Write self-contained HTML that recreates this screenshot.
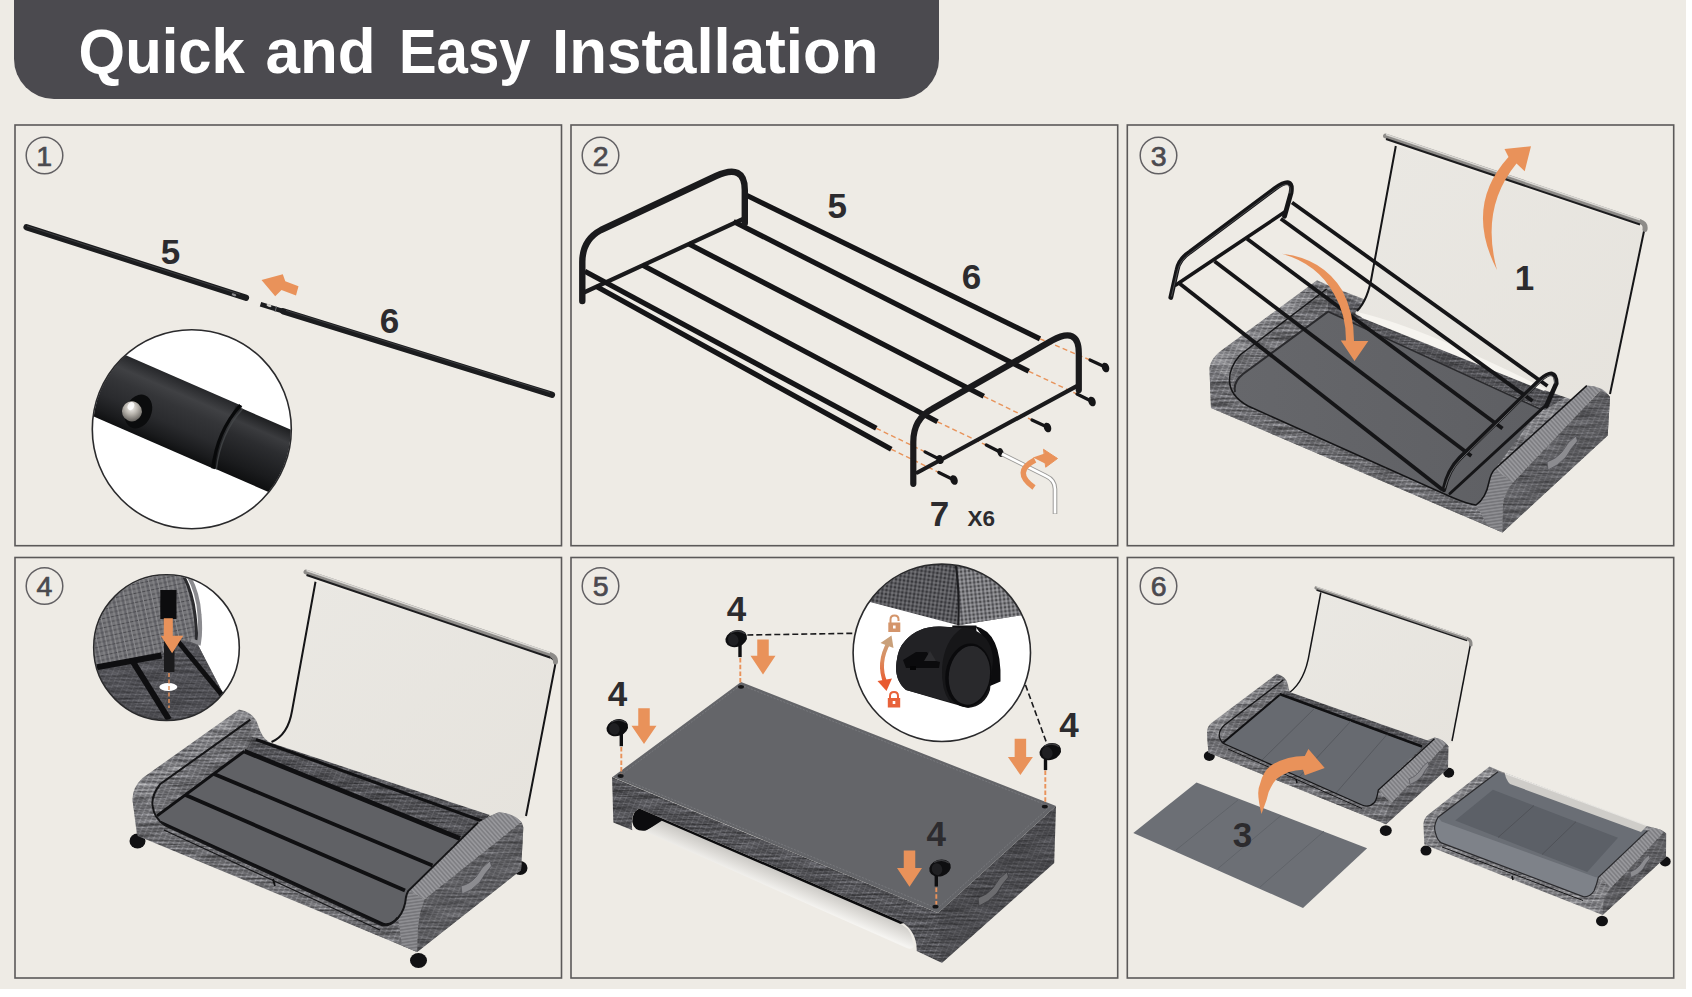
<!DOCTYPE html>
<html>
<head>
<meta charset="utf-8">
<title>Quick and Easy Installation</title>
<style>
html,body{margin:0;padding:0;background:#ffffff;}
body{width:1692px;height:997px;overflow:hidden;font-family:"Liberation Sans",sans-serif;}
svg{display:block;position:absolute;left:0;top:0;}
text{font-family:"Liberation Sans",sans-serif;}
</style>
</head>
<body>
<svg width="1692" height="997" viewBox="0 0 1692 997">
<defs>
  <filter id="fab" x="-2%" y="-2%" width="104%" height="104%" color-interpolation-filters="sRGB">
    <feTurbulence type="fractalNoise" baseFrequency="0.03 0.5" numOctaves="2" seed="5" result="t"/>
    <feColorMatrix in="t" type="matrix" values="0.6 0 0 0 0.2  0.6 0 0 0 0.2  0.6 0 0 0 0.2  0 0 0 0 1" result="g"/>
    <feBlend in="g" in2="SourceGraphic" mode="overlay" result="b"/>
    <feComposite in="b" in2="SourceGraphic" operator="in"/>
  </filter>
  <pattern id="weave" width="5" height="5" patternUnits="userSpaceOnUse" patternTransform="rotate(24)">
    <rect width="5" height="5" fill="#8b8b8f"/>
    <path d="M0 1H5" stroke="#626266" stroke-width="1.1"/>
    <path d="M0 3.5H5" stroke="#77777b" stroke-width="0.8"/>
    <path d="M1.5 0V5" stroke="#9d9da1" stroke-width="0.7"/>
    <path d="M4 0V5" stroke="#6a6a6e" stroke-width="0.6"/>
  </pattern>
  <pattern id="weaveM" width="5" height="5" patternUnits="userSpaceOnUse" patternTransform="rotate(24)">
    <rect width="5" height="5" fill="#77777b"/>
    <path d="M0 1H5" stroke="#55555a" stroke-width="1.2"/>
    <path d="M0 3.5H5" stroke="#66666a" stroke-width="0.8"/>
    <path d="M1.5 0V5" stroke="#88888c" stroke-width="0.7"/>
    <path d="M4 0V5" stroke="#5c5c60" stroke-width="0.6"/>
  </pattern>
  <pattern id="bandR" width="3.2" height="6" patternUnits="userSpaceOnUse" patternTransform="rotate(-42)">
    <rect width="3.2" height="6" fill="#98989c"/>
    <path d="M0.8 0V6" stroke="#707074" stroke-width="1"/>
  </pattern>
  <pattern id="bandR2" width="6" height="3.2" patternUnits="userSpaceOnUse" patternTransform="rotate(-8)">
    <rect width="6" height="3.2" fill="#8e8e92"/>
    <path d="M0 0.8H6" stroke="#68686c" stroke-width="1"/>
  </pattern>
  <pattern id="weaveD" width="5" height="5" patternUnits="userSpaceOnUse" patternTransform="rotate(24)">
    <rect width="5" height="5" fill="#58585c"/>
    <path d="M0 1H5" stroke="#3e3e42" stroke-width="1.2"/>
    <path d="M0 3.5H5" stroke="#4b4b50" stroke-width="0.8"/>
    <path d="M1.5 0V5" stroke="#69696d" stroke-width="0.7"/>
  </pattern>
</defs>
<!-- page background -->
<rect x="0" y="0" width="1686" height="989" fill="#eeebe5"/>

<!-- header banner -->
<path d="M14 0H939V59A40 40 0 0 1 899 99H54A40 40 0 0 1 14 59Z" fill="#4b4a4f"/>
<g font-size="62.5" font-weight="bold" fill="#ffffff" lengthAdjust="spacingAndGlyphs">
  <text x="78.6" y="72.5" textLength="166.3" lengthAdjust="spacingAndGlyphs">Quick</text>
  <text x="265.5" y="72.5" textLength="110.2" lengthAdjust="spacingAndGlyphs">and</text>
  <text x="399" y="72.5" textLength="131.6" lengthAdjust="spacingAndGlyphs">Easy</text>
  <text x="552.1" y="72.5" textLength="326.4" lengthAdjust="spacingAndGlyphs">Installation</text>
</g>

<!-- panel frames -->
<g fill="none" stroke="#5b5959" stroke-width="1.6">
  <rect x="15" y="125" width="546.5" height="420.7"/>
  <rect x="571" y="125" width="546.7" height="420.7"/>
  <rect x="1127.3" y="125" width="546.4" height="420.7"/>
  <rect x="15" y="557.5" width="546.5" height="420.5"/>
  <rect x="571" y="557.5" width="546.7" height="420.5"/>
  <rect x="1127.3" y="557.5" width="546.4" height="420.5"/>
</g>

<!-- step numbers -->
<g fill="none" stroke="#626063" stroke-width="1.5">
  <circle cx="44.5" cy="155.5" r="18.3"/>
  <circle cx="600.5" cy="155.5" r="18.3"/>
  <circle cx="1158.5" cy="155.5" r="18.3"/>
  <circle cx="44.5" cy="586" r="18.3"/>
  <circle cx="600.5" cy="586" r="18.3"/>
  <circle cx="1158.5" cy="586" r="18.3"/>
</g>
<g font-size="28.5" font-weight="normal" fill="#4b4a4f" stroke="#4b4a4f" stroke-width="0.7" text-anchor="middle">
  <text x="44.3" y="166">1</text>
  <text x="600.6" y="166">2</text>
  <text x="1158.6" y="166">3</text>
  <text x="44.5" y="596.3">4</text>
  <text x="600.6" y="596.3">5</text>
  <text x="1158.6" y="596.3">6</text>
</g>

<!-- PANEL1 -->
<defs>
  <linearGradient id="tubeG" x1="0" y1="0" x2="0" y2="1">
    <stop offset="0" stop-color="#26272a"/>
    <stop offset="0.2" stop-color="#404144"/>
    <stop offset="0.38" stop-color="#343538"/>
    <stop offset="0.65" stop-color="#2a2b2e"/>
    <stop offset="0.88" stop-color="#1a1b1d"/>
    <stop offset="1" stop-color="#0f1011"/>
  </linearGradient>
  <linearGradient id="tubeG2" x1="0" y1="0" x2="0" y2="1">
    <stop offset="0" stop-color="#1e1f21"/>
    <stop offset="0.2" stop-color="#3b3c3f"/>
    <stop offset="0.4" stop-color="#2c2d30"/>
    <stop offset="0.8" stop-color="#1a1b1d"/>
    <stop offset="1" stop-color="#0e0f10"/>
  </linearGradient>
  <radialGradient id="ballG" cx="0.4" cy="0.35" r="0.7">
    <stop offset="0" stop-color="#f4f2ee"/>
    <stop offset="0.45" stop-color="#b9b5ae"/>
    <stop offset="1" stop-color="#5e5b57"/>
  </radialGradient>
  <clipPath id="c1"><circle cx="191.8" cy="429.2" r="99"/></clipPath>
</defs>
<g id="panel1">
  <!-- rod 5 -->
  <line x1="26.5" y1="227.2" x2="246" y2="297.7" stroke="#1b1c1e" stroke-width="6.2" stroke-linecap="round"/>
  <line x1="27" y1="226" x2="240" y2="294.3" stroke="#4a4b4e" stroke-width="1" opacity="0.7"/>
  <ellipse cx="234" cy="294.8" rx="2.4" ry="1.2" fill="#8a8a8c" transform="rotate(18 234 294.8)"/>
  <!-- rod 6 -->
  <line x1="260.5" y1="304.3" x2="284" y2="311.5" stroke="#1b1c1e" stroke-width="4.6"/>
  <line x1="283" y1="311.2" x2="552" y2="394.8" stroke="#1b1c1e" stroke-width="6.2" stroke-linecap="round"/>
  <line x1="286" y1="310.4" x2="550" y2="392.4" stroke="#4a4b4e" stroke-width="1" opacity="0.7"/>
  <ellipse cx="269" cy="305.6" rx="2.6" ry="1.3" fill="#cfcdc8" transform="rotate(17 269 305.6)"/>
  <line x1="276.5" y1="306.5" x2="275" y2="312" stroke="#6c6c6e" stroke-width="1"/>
  <!-- arrow -->
  <path d="M261.5 280L282.8 274.2L285.3 281.3L298.5 286.2L296 295.5L281.5 290L275.2 296.3Z" fill="#e9925a"/>
  <!-- labels -->
  <g font-size="35" font-weight="bold" fill="#2c2b2e" text-anchor="middle">
    <text x="170.5" y="264">5</text>
    <text x="389.5" y="332.5">6</text>
  </g>
  <!-- inset -->
  <circle cx="191.8" cy="429.2" r="99.5" fill="#ffffff"/>
  <g clip-path="url(#c1)">
    <g transform="translate(191.8 421.6) rotate(23.5)">
      <rect x="-130" y="-34.5" width="170" height="69" fill="url(#tubeG)"/>
      <rect x="34" y="-32" width="110" height="66" fill="url(#tubeG2)"/>
      <path d="M38 -34.5Q27 0 38 34.5" fill="none" stroke="#08090a" stroke-width="3.2"/>
      <path d="M41.5 -32Q31 0 41.5 34" fill="none" stroke="#45474a" stroke-width="1.5" opacity="0.8"/>
      <ellipse cx="-53" cy="12" rx="13" ry="17.5" fill="#0b0c0d"/>
      <circle cx="-59" cy="14.5" r="10" fill="url(#ballG)"/>
      <ellipse cx="-62" cy="10" rx="3.2" ry="4.2" fill="#ffffff" opacity="0.85"/>
    </g>
  </g>
  <circle cx="191.8" cy="429.2" r="99.5" fill="none" stroke="#2a2a2c" stroke-width="1.6"/>
</g>
<!-- PANEL2 -->
<g id="panel2" fill="none" stroke-linecap="round" stroke-linejoin="round">
  <!-- far U frame lower crossbar -->
  <line x1="743" y1="219" x2="585" y2="292" stroke="#1a1a1c" stroke-width="4.2"/>
  <!-- long rods -->
  <g stroke="#151517" stroke-width="5.2" stroke-linecap="butt">
    <line x1="746" y1="195" x2="1040" y2="338.8"/>
    <line x1="733.5" y1="221.5" x2="1028.8" y2="371.3"/>
    <line x1="688.5" y1="243.8" x2="983.8" y2="396.3"/>
    <line x1="642.3" y1="265" x2="937.5" y2="421.8"/>
    <line x1="584.8" y1="271.3" x2="876.3" y2="428.3"/>
    <line x1="596" y1="286.3" x2="891.3" y2="449.3"/>
  </g>
  <!-- far U frame -->
  <path d="M582.3 301V262Q582.3 240 601 230L716 176Q744.8 163 744.8 190V223" stroke="#1a1a1c" stroke-width="6.4"/>
  <!-- dashed guides -->
  <g stroke="#e8935a" stroke-width="1.4" stroke-dasharray="5 3.2" stroke-linecap="butt">
    <line x1="1040" y1="338.8" x2="1090" y2="360"/>
    <line x1="1028.8" y1="371.3" x2="1077" y2="394"/>
    <line x1="983.8" y1="396.3" x2="1032" y2="420"/>
    <line x1="937.5" y1="421.8" x2="986" y2="445"/>
    <line x1="876.3" y1="428.3" x2="925" y2="451.8"/>
    <line x1="891.3" y1="449.3" x2="939" y2="472.5"/>
  </g>
  <!-- near U frame -->
  <line x1="1076.3" y1="386.3" x2="917.5" y2="472.5" stroke="#1a1a1c" stroke-width="4.2"/>
  <path d="M913.3 483.8V442Q913.3 419 932.5 408.8L1052 340.5Q1078.8 326 1078.8 353V390" stroke="#1a1a1c" stroke-width="6.2"/>
  <!-- screws -->
  <g stroke="#151517" stroke-width="3.2">
    <line x1="1090" y1="360" x2="1104" y2="366.5"/>
    <line x1="1077" y1="394" x2="1090" y2="400.5"/>
    <line x1="1032" y1="420" x2="1046" y2="426.5"/>
    <line x1="986.3" y1="445" x2="1000" y2="452"/>
    <line x1="925" y1="451.8" x2="939" y2="459"/>
    <line x1="938.8" y1="472.5" x2="952" y2="479"/>
  </g>
  <g fill="#151517" stroke="none">
    <ellipse cx="1105.5" cy="367.5" rx="3.6" ry="5" transform="rotate(-20 1105.5 367.5)"/>
    <ellipse cx="1092" cy="401.5" rx="3.6" ry="5" transform="rotate(-20 1092 401.5)"/>
    <ellipse cx="1047.5" cy="427.5" rx="3.6" ry="5" transform="rotate(-20 1047.5 427.5)"/>
    <ellipse cx="1000.5" cy="452.5" rx="3" ry="4.6" transform="rotate(-20 1000.5 452.5)"/>
    <ellipse cx="940" cy="459.5" rx="3.4" ry="4.6" transform="rotate(-20 940 459.5)"/>
    <ellipse cx="954" cy="480" rx="3.6" ry="5" transform="rotate(-20 954 480)"/>
  </g>
  <!-- allen key -->
  <path d="M1002 454L1046 476Q1055 480 1055 489V514" stroke="#9b9a98" stroke-width="4.6" stroke-linecap="butt"/>
  <path d="M1002 454L1046 476Q1055 480 1055 489V513.5" stroke="#ffffff" stroke-width="2.6" stroke-linecap="butt"/>
  <!-- orange curved arrow -->
  <path d="M1034 487.5Q1012 472 1035 460" stroke="#e9925a" stroke-width="5.5" stroke-linecap="butt"/>
  <path d="M1043.8 449.5L1057.5 458.5L1046 467Z" fill="#e9925a" stroke="#e9925a" stroke-width="1"/>
  <path d="M1033 457.5L1046 453V464Z" fill="#e9925a" stroke="none"/>
</g>
<g font-weight="bold" fill="#2c2b2e" text-anchor="middle">
  <text x="837.3" y="217.5" font-size="35">5</text>
  <text x="971.6" y="288.8" font-size="35">6</text>
  <text x="939.4" y="526.3" font-size="35">7</text>
  <text x="981.3" y="526.3" font-size="22.5">X6</text>
</g>
<!-- PANEL3 -->
<defs>
  <linearGradient id="lidG" x1="0" y1="0" x2="1" y2="1">
    <stop offset="0" stop-color="#eae8e3"/>
    <stop offset="1" stop-color="#e6e3dd"/>
  </linearGradient>
  <linearGradient id="floorG" x1="0" y1="0" x2="1" y2="0">
    <stop offset="0" stop-color="#66676b"/>
    <stop offset="1" stop-color="#5e5f63"/>
  </linearGradient>
</defs>
<g id="panel3">
  <!-- bed outer body (fabric) -->
  <path d="M1317 280.3L1330 286L1587 385.6Q1603 388 1610 397L1607.7 435.4L1502.5 532.5L1211 408L1209.4 368Q1211 357 1224 348.5Z" fill="url(#weave)" filter="url(#fab)"/>
  <!-- inner faces (dark) -->
  <path d="M1326.6 289L1575 392L1545 410L1328 311.6Z" fill="url(#weaveD)" filter="url(#fab)"/>
  <path d="M1326.6 289L1240 355Q1229 368 1229.5 380.6Q1230 396 1248 405L1262 396L1328 311.6Z" fill="url(#weaveM)" filter="url(#fab)"/>
  <!-- floor -->
  <path d="M1328 311.6L1540 409L1494.5 469.5Q1488 492 1476 505Q1464 504 1440 492L1248 406Q1232 396 1234 384Q1236 378 1243 374Z" fill="url(#floorG)"/>
  <path d="M1328 311.6L1243 374Q1233 382 1235 392" stroke="#2a2a2d" stroke-width="2" fill="none"/>
  <path d="M1328 311.6L1540 409" stroke="#2a2a2d" stroke-width="1.6" fill="none"/>
  <!-- lid -->
  <path d="M1395.8 146L1644.6 228.3L1608.5 396L1585 404L1544 390L1362 317Q1352 314 1357 311Q1368 300 1372 275Z" fill="url(#lidG)"/>
  <path d="M1357 312Q1420 326 1546 389L1544 391L1362 318Z" fill="#f6f4ef"/>
  <path d="M1395.8 146L1372 275Q1368 300 1357 311" fill="none" stroke="#151517" stroke-width="2"/>
  <path d="M1644.6 228.3L1610 394" fill="none" stroke="#151517" stroke-width="2"/>
  <path d="M1385.5 136L1640 221.5Q1646 223.5 1645 229.5" fill="none" stroke="#8d8b88" stroke-width="5" stroke-linecap="round"/>
  <path d="M1386 134.5L1640 219.8" fill="none" stroke="#d9d7d3" stroke-width="1.6"/>
  <path d="M1386 139L1640 224.5" fill="none" stroke="#1c1c1e" stroke-width="1.9"/>
  <!-- front wall (outer, below piping) -->
  <path d="M1211 408L1209.6 372Q1218 364 1229.5 380.6Q1230 396 1248 406L1440 492Q1466 504 1476 505Q1486 498 1489 482L1494.5 469.5L1513 482.7Q1504 492 1503 505L1502.5 532.5Z" fill="url(#weaveM)" filter="url(#fab)"/>
  <!-- right bolster top band -->
  <path d="M1494.5 469.5L1586.8 385.6Q1603 386 1610 397L1600 391L1513 482.7Q1504 476 1494.5 469.5Z" fill="url(#bandR)"/>
  <path d="M1476 505Q1486 498 1489 482Q1491 473 1494.5 469.5L1513 482.7Q1504 492 1503 505L1502.5 532.5L1488 526Z" fill="url(#bandR2)"/>
  <!-- right bolster outer side face -->
  <path d="M1513 482.7L1600 391Q1607 392 1610 397L1607.7 435.4L1502.5 532.5L1503 505Q1504 492 1513 482.7Z" fill="url(#weaveM)" filter="url(#fab)"/>
  <path d="M1513 482.7L1600 391Q1607 392 1610 397L1607.7 435.4L1502.5 532.5L1503 505Q1504 492 1513 482.7Z" fill="#3a3a3e" opacity="0.3"/>
  <!-- piping line -->
  <path d="M1326.6 289L1240 355Q1229 368 1229.5 380.6Q1230 396 1248 406L1440 492Q1466 504 1476 505Q1486 498 1489 482Q1491 473 1494.5 469.5L1586.8 385.6" fill="none" stroke="#151517" stroke-width="1.5"/>
  <!-- handle -->
  <path d="M1547 462Q1556 459 1562 452Q1568 441 1576 436L1577.5 441Q1571 448 1566 457Q1558 466 1548 470Z" fill="#8c8c90" stroke="#55555a" stroke-width="0.8"/>
  <!-- rack being inserted -->
  <g fill="none" stroke="#151517" stroke-linecap="round">
    <line x1="1285.8" y1="211.3" x2="1175.8" y2="285" stroke-width="3.6"/>
    <g stroke-width="3.8" stroke-linecap="butt">
      <line x1="1292" y1="202.5" x2="1547.5" y2="386"/>
      <line x1="1280.8" y1="218.8" x2="1532.5" y2="401"/>
      <line x1="1247" y1="238.8" x2="1502.5" y2="428.5"/>
      <line x1="1214.5" y1="261.3" x2="1471.3" y2="456"/>
      <line x1="1178.3" y1="282.5" x2="1442.5" y2="489.8"/>
    </g>
    <path d="M1170.8 297.5L1177 270Q1179 259 1190 252L1275 188.5Q1294 175 1291 193L1284.5 216.3" stroke-width="4.8"/>
    <path d="M1171.6 296L1177.8 270.5Q1180 260 1190.6 253L1275.5 189.5Q1292 178 1290 193" stroke="#5a5b5e" stroke-width="1" opacity="0.8"/>
    <!-- near U -->
    <line x1="1450" y1="493.5" x2="1545" y2="406" stroke-width="3"/>
    <path d="M1443.8 489.8Q1448 470 1460 458L1540 380Q1556 366 1556.3 383.5L1546.3 406" stroke-width="4.6"/>
    <path d="M1445 488Q1449.5 470.5 1461 459L1540.6 381.3Q1554 369 1554.8 383" stroke="#6a6b6e" stroke-width="1" opacity="0.9"/>
  </g>
  <!-- arrow down -->
  <path d="M1282 253.8Q1322 258 1342 290Q1354 312 1354 341L1368.3 341L1354.5 361L1340.8 340.5L1346 340.5Q1346 314 1334 294Q1318 264 1282 253.8Z" fill="#e9925a"/>
  <!-- arrow up -->
  <path d="M1497 270Q1464 206 1508.5 157L1504.5 149L1531 146.3L1524.7 171.3L1516.5 163.5Q1480 208 1497 270Z" fill="#e9925a"/>
  <text x="1524.5" y="290" font-size="35" font-weight="bold" fill="#2c2b2e" text-anchor="middle">1</text>
</g>
<!-- PANEL4 -->
<defs>
  <clipPath id="c4"><circle cx="166.5" cy="647.6" r="72.3"/></clipPath>
  <pattern id="bandL" width="3.4" height="6" patternUnits="userSpaceOnUse" patternTransform="rotate(-36)">
    <rect width="3.4" height="6" fill="#808084"/>
    <path d="M0.8 0V6" stroke="#5e5e62" stroke-width="1"/>
  </pattern>
  <pattern id="grid" width="9" height="9" patternUnits="userSpaceOnUse" patternTransform="rotate(-12)">
    <rect width="9" height="9" fill="#747478"/>
    <path d="M0 1H9M0 5.5H9" stroke="#4a4a4e" stroke-width="1.2"/>
    <path d="M2 0V9M6.5 0V9" stroke="#8d8d91" stroke-width="0.9"/>
    <path d="M4.2 0V9" stroke="#55555a" stroke-width="0.8"/>
  </pattern>
</defs>
<g id="panel4">
  <!-- lid -->
  <path d="M315.5 581.7L555.2 657.6L525.8 818L480 820L275 745Q288 735 292 711Z" fill="url(#lidG)"/>
  <path d="M315.5 581.7L292 711Q288 735 271.5 742" fill="none" stroke="#151517" stroke-width="2"/>
  <path d="M548 656.8Q556.5 658.5 555 666L526 816" fill="none" stroke="#151517" stroke-width="2"/>
  <path d="M306 572L550 654.5Q556 656.5 555.5 662" fill="none" stroke="#8d8b88" stroke-width="5" stroke-linecap="round"/>
  <path d="M306.5 570.4L550 652.8" fill="none" stroke="#d9d7d3" stroke-width="1.6"/>
  <path d="M306.5 575L550 657.5" fill="none" stroke="#1c1c1e" stroke-width="1.9"/>
  <!-- wheels -->
  <g fill="#111113">
    <ellipse cx="137.5" cy="841" rx="8" ry="7.5"/>
    <ellipse cx="418.5" cy="960.5" rx="8.5" ry="7.5"/>
    <ellipse cx="520" cy="868" rx="7.5" ry="7"/>
  </g>
  <!-- bed silhouette -->
  <path d="M239 709.5Q254 712 258 725Q262 738 269 742L478 821L498.6 812.2Q514 813 523.3 827L521 870L417.1 951.9L136.8 834L132.5 800Q132 788 142.5 778Z" fill="url(#weave)" filter="url(#fab)"/>
  <!-- far wall + left bolster inner faces -->
  <!-- floor -->
  <path d="M250 736L490 815L460 843L243 756Z" fill="url(#weaveD)" filter="url(#fab)"/>
  <path d="M256 739.5L482 821" stroke="#101012" stroke-width="3" fill="none"/>
  <path d="M250.4 719.6L160 784.3Q151 796 152.6 806Q154 818 165 825.5L172 822L244.4 753L252 738Z" fill="url(#weaveM)" filter="url(#fab)"/>
  <path d="M244.4 751.2L460 838.5L408.4 890.8Q405 910 398 918Q391 926 382.5 925.5L165 825.5L157 815.9Z" fill="#606165"/>
  <path d="M244.4 751.2L157 815.9" stroke="#101012" stroke-width="3" fill="none"/>
  <path d="M160 822L384 924.5Q392 926 398 918" stroke="#101012" stroke-width="3" fill="none"/>
  <g stroke="#101012" stroke-width="3.8" fill="none">
    <line x1="244.4" y1="751.2" x2="460" y2="838.5" stroke-width="4.6"/>
    <line x1="214" y1="774" x2="432.5" y2="865.5"/>
    <line x1="185.5" y1="795" x2="405" y2="890.5"/>
  </g>
  <!-- front wall -->
  <path d="M137.7 836L132.5 800Q140 790 152.6 806Q154 818 165 825.5L382.5 925.5Q391 926 398 918Q405 910 406 897L408.4 890.8L424.4 899.5Q418 915 417.5 935L417.1 951.9Z" fill="url(#weaveM)" filter="url(#fab)"/>
  <!-- right bolster -->
  <path d="M408.4 890.8L478.2 822.4L498.6 812.2Q514 813 521.5 822L424.4 899.5Q416 894 408.4 890.8Z" fill="url(#bandR)"/>
  <path d="M424.4 899.5L521.5 822Q523 825 523.3 828L521 870L417.1 951.9L417.5 935Q418 915 424.4 899.5Z" fill="url(#weaveM)" filter="url(#fab)"/>
  <path d="M424.4 899.5L521.5 822Q523 825 523.3 828L521 870L417.1 951.9L417.5 935Q418 915 424.4 899.5Z" fill="#3a3a3e" opacity="0.3"/>
  <path d="M398 918Q405 910 406 897L408.4 890.8L424.4 899.5Q418 915 417.5 935L417.1 951.9L402 945.5Z" fill="url(#bandR2)"/>
  <!-- piping -->
  <path d="M250.4 719.6L160 784.3Q151 796 152.6 806Q154 818 165 825.5L382.5 925.5Q391 926 398 918Q405 910 406 897Q407 893 408.4 890.8L478.2 822.4" fill="none" stroke="#151517" stroke-width="2"/>
  <path d="M166 827L382 927" fill="none" stroke="#151517" stroke-width="1.2" transform="translate(-2 3)"/>
  <path d="M273 879l2 7" stroke="#101012" stroke-width="1.8" fill="none"/>
  <!-- handle -->
  <path d="M461 886Q470 884 476 877Q482 866 490 861L491.5 866Q485 873 480 882Q472 891 462 894Z" fill="#8c8c90" stroke="#55555a" stroke-width="0.8"/>
  <!-- inset circle -->
  <circle cx="166.5" cy="647.6" r="72.8" fill="#ffffff"/>
  <g clip-path="url(#c4)">
    <path d="M80 560H174Q192 585 195 615Q197 632 196.5 642L222 695L215 730H80Z" fill="url(#grid)"/>
    <path d="M90 668L162 654L176 640L196.5 642L225 697L200 730H90Z" fill="#4c4c50"/>
    <path d="M90 668L162 654L176 640L196.5 642L225 697L200 730H90Z" fill="url(#weaveD)" opacity="0.7" filter="url(#fab)"/>
    <path d="M174 560Q192 585 195 615Q197 632 196.5 642" fill="none" stroke="#2b2b2e" stroke-width="3"/>
    <path d="M178 560Q198 585 199.5 615Q201 632 199 643L191 640" fill="none" stroke="#8b8b8f" stroke-width="4"/>
    <rect x="160.3" y="590" width="16.2" height="29" fill="#0c0c0e"/>
    <path d="M90 668.5L161.5 655.5" stroke="#0e0e10" stroke-width="6" fill="none"/>
    <path d="M131.5 659.5L169 719.5" stroke="#0e0e10" stroke-width="6" fill="none"/>
    <path d="M176.5 639.5L222 695" stroke="#0e0e10" stroke-width="5" fill="none"/>
    <path d="M164 640H174.5V672H164Z" fill="#1a1a1c"/>
    <ellipse cx="168.3" cy="687" rx="9" ry="4" fill="#ffffff"/>
    <path d="M169 673V708" stroke="#e9925a" stroke-width="1.4" stroke-dasharray="4 2.5" fill="none"/>
    <path d="M162 618.3H171V635.8H181.5L170.3 653.3L159 635.8H162Z" fill="#e9925a" transform="translate(1.8 0)"/>
  </g>
  <circle cx="166.5" cy="647.6" r="72.8" fill="none" stroke="#2a2a2c" stroke-width="1.6"/>
</g>
<!-- PANEL5 -->
<defs>
  <clipPath id="c5"><circle cx="941.8" cy="652.8" r="88.2"/></clipPath>
  <linearGradient id="lidS" gradientUnits="userSpaceOnUse" x1="781" y1="871" x2="773" y2="890">
    <stop offset="0" stop-color="#c9c7c3"/>
    <stop offset="0.45" stop-color="#dddbd7"/>
    <stop offset="1" stop-color="#f5f4f1"/>
  </linearGradient>
  <linearGradient id="arrG" x1="0" y1="0" x2="0" y2="1">
    <stop offset="0" stop-color="#c9a07a"/>
    <stop offset="0.45" stop-color="#dd8a5c"/>
    <stop offset="1" stop-color="#e85a30"/>
  </linearGradient>
  <pattern id="grid5" width="8" height="8" patternUnits="userSpaceOnUse" patternTransform="rotate(8)">
    <rect width="8" height="8" fill="#5c5c60"/>
    <path d="M0 1H8M0 5H8" stroke="#2c2c30" stroke-width="1.3"/>
    <path d="M2 0V8M6 0V8" stroke="#8a8a8e" stroke-width="0.9"/>
    <path d="M4 0V8" stroke="#3c3c40" stroke-width="0.8"/>
  </pattern>
  <pattern id="grid5b" width="8" height="8" patternUnits="userSpaceOnUse" patternTransform="rotate(-6)">
    <rect width="8" height="8" fill="#7c7c80"/>
    <path d="M0 1H8M0 5H8" stroke="#3a3a3e" stroke-width="1.3"/>
    <path d="M2 0V8M6 0V8" stroke="#b4b4b8" stroke-width="1"/>
    <path d="M4 0V8" stroke="#505054" stroke-width="0.8"/>
  </pattern>
</defs>
<g id="panel5">
  <!-- bed body: side walls -->
  <path d="M612 777L938 913L1056 806L1054.2 863L941.9 962.9L916.6 951Q917 942 913 934Q909 926 898.3 920L639.3 808.5Q630 812 632.3 830.2L613.3 822.5Z" fill="url(#weaveD)" filter="url(#fab)"/>
  <path d="M938 913L1056 806L1054.2 863L941.9 962.9Z" fill="#3c3c40" opacity="0.3"/>
  <!-- black cavity + shadow above lid -->
  <path d="M639.3 808.5L898.3 920L904 923L898.3 924.5L661.8 822Q652 828 646 830.5Q634 832 632.3 822Q632 812 639.3 808.5Z" fill="#0c0c0e"/>
  <!-- silver lid -->
  <path d="M645 831.6L661.8 820.8L898.3 922.9Q909.6 927 912 938L913.8 946.7Q911 950 906.7 948Z" fill="url(#lidS)"/>
  <!-- top surface -->
  <path d="M741 682L1056 806L938 913L612.5 777Z" fill="#646569"/>
  <path d="M741 685L1050 806.5L937.5 908.5L618 777Z" fill="none" stroke="#7b7c80" stroke-width="0.8" stroke-dasharray="2 1.5"/>
  <!-- handle -->
  <path d="M978 898Q987 895 993 888Q999 877 1007 872L1008.5 877Q1002 884 997 893Q989 902 979 906Z" fill="#6c6c6f" stroke="#3c3c40" stroke-width="0.8"/>
  <!-- corner holes -->
  <g fill="#141416">
    <ellipse cx="741" cy="686.8" rx="3" ry="1.9"/>
    <ellipse cx="620.6" cy="776" rx="3" ry="1.9"/>
    <ellipse cx="1044.8" cy="806.6" rx="3" ry="1.9"/>
    <ellipse cx="935.5" cy="906.7" rx="3" ry="1.9"/>
  </g>
  <!-- dashed orange guides -->
  <g stroke="#e9925a" stroke-width="1.9" stroke-dasharray="4.5 2.2" fill="none">
    <line x1="740.3" y1="658" x2="740.3" y2="684.5"/>
    <line x1="621.3" y1="747" x2="621.3" y2="774"/>
    <line x1="1045.3" y1="770.5" x2="1045.3" y2="804"/>
    <line x1="936.3" y1="887.5" x2="936.3" y2="904.5"/>
  </g>
  <!-- black dashed leaders -->
  <g stroke="#1a1a1c" stroke-width="1.6" stroke-dasharray="6 3" fill="none">
    <line x1="747.3" y1="635" x2="854" y2="633.3"/>
    <line x1="1025.5" y1="685" x2="1047" y2="744"/>
  </g>
  <!-- casters -->
  <g>
    <path d="M740.0 643.6V657.1" stroke="#0e0e10" stroke-width="3.4" stroke-linecap="butt" fill="none"/>
    <ellipse cx="736.2" cy="638.6" rx="11" ry="8.3" fill="#0e0e10" transform="rotate(-18 736.2 638.6)"/>
    <ellipse cx="733.2" cy="639.8000000000001" rx="5.2" ry="6" fill="#1f1f22" transform="rotate(-18 733.2 639.8000000000001)"/>
    <path d="M730.2 633.1Q738.2 628.6 745.2 633.6" stroke="#3a3a3d" stroke-width="1.3" fill="none"/>
  </g><g>
    <path d="M621.3 732.7V746.2" stroke="#0e0e10" stroke-width="3.4" stroke-linecap="butt" fill="none"/>
    <ellipse cx="617.3" cy="727.7" rx="11" ry="8.3" fill="#0e0e10" transform="rotate(-18 617.3 727.7)"/>
    <ellipse cx="614.3" cy="728.9000000000001" rx="5.2" ry="6" fill="#1f1f22" transform="rotate(-18 614.3 728.9000000000001)"/>
    <path d="M611.3 722.2Q619.3 717.7 626.3 722.7" stroke="#3a3a3d" stroke-width="1.3" fill="none"/>
  </g><g>
    <path d="M1045.5 756.6V770.1" stroke="#0e0e10" stroke-width="3.4" stroke-linecap="butt" fill="none"/>
    <ellipse cx="1050.3" cy="751.6" rx="11" ry="8.3" fill="#0e0e10" transform="rotate(-18 1050.3 751.6)"/>
    <ellipse cx="1047.3" cy="752.8000000000001" rx="5.2" ry="6" fill="#1f1f22" transform="rotate(-18 1047.3 752.8000000000001)"/>
    <path d="M1044.3 746.1Q1052.3 741.6 1059.3 746.6" stroke="#3a3a3d" stroke-width="1.3" fill="none"/>
  </g><g>
    <path d="M936.3 873V886.5" stroke="#0e0e10" stroke-width="3.4" stroke-linecap="butt" fill="none"/>
    <ellipse cx="940" cy="868" rx="11" ry="8.3" fill="#0e0e10" transform="rotate(-18 940 868)"/>
    <ellipse cx="937" cy="869.2" rx="5.2" ry="6" fill="#1f1f22" transform="rotate(-18 937 869.2)"/>
    <path d="M934 862.5Q942 858 949 863" stroke="#3a3a3d" stroke-width="1.3" fill="none"/>
  </g>
  <!-- arrows -->
  <path d="M757.25 639.5H768.75V655.8H775.5L763 674.5L750.5 655.8H757.25Z" fill="#e9925a"/><path d="M638.25 708.3H649.75V725.8H656.5L644 744L631.5 725.8H638.25Z" fill="#e9925a"/><path d="M1014.65 738.8H1026.15V756.9H1032.9L1020.4 775L1007.9 756.9H1014.65Z" fill="#e9925a"/><path d="M903.75 850.5H915.25V868H922.0L909.5 886.8L897.0 868H903.75Z" fill="#e9925a"/>
  <!-- inset -->
  <circle cx="941.8" cy="652.8" r="88.7" fill="#ffffff"/>
  <g clip-path="url(#c5)">
    <path d="M850 560H1035V616L1021.5 615.2L958.3 625.2L870 602L850 598Z" fill="url(#grid5)"/>
    <path d="M958.3 560H1035V616L1021.5 615.2L958.3 625.2Z" fill="url(#grid5b)"/>
    <path d="M955 560Q960 590 958.3 625.2" stroke="#1c1c1f" stroke-width="2" fill="none"/>
    <!-- caster big -->
    <path d="M952.3 625.5H976.4V634H952.3Z" fill="#111113"/>
    <path d="M975 626Q1002 632 1000.5 681.4L990 686L985 640Z" fill="#0c0c0e"/>
    <path d="M905 641Q918 626 940 626.5L968 628Q992 634 993 660L990 690Q985 706 968 708L940 700L906 690Q894 680 896.5 662Q898 648 905 641Z" fill="#161618"/>
    <path d="M905 641Q918 626 940 626.5L962 628Q944 640 942 668Q941 690 950 702L906 690Q894 680 896.5 662Q898 648 905 641Z" fill="#222225"/>
    <ellipse cx="968.4" cy="675.3" rx="23" ry="32" fill="#0a0a0c" transform="rotate(8 968.4 675.3)"/>
    <ellipse cx="969.4" cy="675.3" rx="20.5" ry="29.5" fill="#29292c" transform="rotate(8 969.4 675.3)"/>
    <path d="M903 660L916 652L927 652L932 660L940 662L939 668L906 668Z" fill="#0b0b0d"/>
    <path d="M924 661L930 651L936 661Z" fill="#2e2e31"/>
    <rect x="910" y="666" width="6" height="4" fill="#050506"/>
    <!-- lock icons -->
    <g fill="none" stroke="#d4956b" stroke-width="2">
      <path d="M890.5 624V619.5Q890.5 615.5 894.5 615.5Q898.5 615.5 898.5 619.5V621"/>
    </g>
    <rect x="888.3" y="622.5" width="12" height="9.5" fill="#d4956b"/>
    <rect x="893" y="625.5" width="2.6" height="3" fill="#ffffff"/>
    <g fill="none" stroke="#e8623a" stroke-width="2">
      <path d="M890 699V696Q890 692 894 692Q898 692 898 696V699"/>
    </g>
    <rect x="887.8" y="698" width="12.4" height="9.5" fill="#e8623a"/>
    <rect x="892.7" y="701" width="2.6" height="3" fill="#ffffff"/>
    <!-- double arrow -->
    <path d="M889 642Q877 663 885.5 683" fill="none" stroke="url(#arrG)" stroke-width="4"/>
    <path d="M891.5 635.5L893.5 648L880.5 643Z" fill="#c9a07a"/>
    <path d="M886.5 691L877.5 681L892 678.5Z" fill="#e85a30"/>
  </g>
  <circle cx="941.8" cy="652.8" r="88.7" fill="none" stroke="#2a2a2c" stroke-width="1.6"/>
</g>
<g font-size="35" font-weight="bold" fill="#2c2b2e" text-anchor="middle">
  <text x="736.6" y="620.8">4</text>
  <text x="617.6" y="705.8">4</text>
  <text x="1069" y="736.6">4</text>
  <text x="936.3" y="845.5">4</text>
</g>
<!-- PANEL6 -->
<g id="panel6">
  <!-- mat on ground -->
  <path d="M1196.5 782.4L1367.1 848.3L1303 907.9L1133.3 833Z" fill="#6c6f75"/>
  <g stroke="#5f6268" stroke-width="0.9" fill="none">
    <line x1="1238" y1="800" x2="1176" y2="850"/>
    <line x1="1281" y1="815.5" x2="1218" y2="868.5"/>
    <line x1="1324" y1="831.3" x2="1260" y2="887"/>
  </g>
  <!-- bed A lid -->
  <path d="M1320.8 592.5L1470.8 642L1452 743L1420 748L1291 694Q1305 680 1309.5 652.5Z" fill="url(#lidG)"/>
  <path d="M1320.8 592.5L1309.5 652.5Q1305 681 1289.5 692.5" fill="none" stroke="#151517" stroke-width="1.5"/>
  <path d="M1470.8 642.5L1452 741" fill="none" stroke="#151517" stroke-width="1.5"/>
  <path d="M1316 588L1467 638.5Q1471.5 640 1471 645" fill="none" stroke="#8d8b88" stroke-width="3.2" stroke-linecap="round"/>
  <path d="M1316.5 587L1467 637.4" fill="none" stroke="#d9d7d3" stroke-width="1"/>
  <path d="M1316.5 590L1467 640.6" fill="none" stroke="#1c1c1e" stroke-width="1.4"/>
  <!-- bed A wheels -->
  <g fill="#111113">
    <ellipse cx="1209.3" cy="756" rx="5.5" ry="5"/>
    <ellipse cx="1385.8" cy="830.6" rx="6" ry="5.3"/>
    <ellipse cx="1448.7" cy="772.8" rx="5.5" ry="5"/>
  </g>
  <!-- bed A silhouette -->
  <path d="M1277 673.8Q1287 677 1288 685Q1289 691 1291 693L1420 743L1434.5 737.5Q1444 740 1448.3 746.3L1448 768.3L1386 824.3L1208.3 752.5L1207 732.5Q1207 726 1212 722.5Z" fill="url(#weave)" filter="url(#fab)"/>
  <path d="M1284 690L1432 742L1415 756L1279 706Z" fill="url(#weaveD)" filter="url(#fab)"/>
  <path d="M1283.3 680L1224.5 725Q1218 731 1219.5 737.5Q1221 743 1227 745L1232 742L1279.5 697L1285 690Z" fill="url(#weaveM)" filter="url(#fab)"/>
  <!-- floor mat -->
  <path d="M1279.5 695L1422 747.5L1378.3 790Q1377 799 1374.5 802.5Q1369 808 1362 805L1227 745L1223.3 742.5Z" fill="#676a70"/>
  <path d="M1279.5 694L1422 746.5" stroke="#101012" stroke-width="2.6" fill="none"/>
  <path d="M1279.5 695L1223.3 742.5" stroke="#101012" stroke-width="2" fill="none"/>
  <g stroke="#55575c" stroke-width="0.9" fill="none">
    <line x1="1315" y1="708" x2="1262" y2="760"/>
    <line x1="1351" y1="721" x2="1299" y2="777"/>
    <line x1="1387" y1="734.5" x2="1336" y2="793"/>
  </g>
  <!-- front wall -->
  <path d="M1208.3 752.5L1207 732.5Q1212 727 1219.5 737.5Q1221 743 1227 745L1362 805Q1369 808 1374.5 802.5Q1377 799 1378.3 790L1391.3 803.5Q1386 810 1386 816L1386 824.3Z" fill="url(#weaveM)" filter="url(#fab)"/>
  <!-- right bolster -->
  <path d="M1378.3 790L1434.5 737.5Q1444 739 1448.3 746.3L1446 744L1391.3 803.5Q1385 797 1378.3 790Z" fill="url(#bandR)"/>
  <path d="M1391.3 803.5L1446 744Q1448 745 1448.3 746.3L1448 768.3L1386 824.3L1386 816Q1386 810 1391.3 803.5Z" fill="url(#weaveM)" filter="url(#fab)"/>
  <path d="M1391.3 803.5L1446 744Q1448 745 1448.3 746.3L1448 768.3L1386 824.3L1386 816Q1386 810 1391.3 803.5Z" fill="#3a3a3e" opacity="0.3"/>
  <path d="M1283.3 680L1224.5 725Q1218 731 1219.5 737.5Q1221 743 1227 745L1362 805Q1369 808 1374.5 802.5Q1377 799 1378.3 790L1434.5 738.8" fill="none" stroke="#151517" stroke-width="1.3"/>
  <path d="M1228 749L1362 808.5" fill="none" stroke="#151517" stroke-width="1"/>
  <path d="M1296 779l1 4" stroke="#101012" stroke-width="1.5" fill="none"/>
  <path d="M1409 779Q1415 777 1419 772Q1423 765 1428 762L1429 765.5Q1425 770 1422 776Q1417 782 1410 784.5Z" fill="#8c8c90" stroke="#55555a" stroke-width="0.7"/>
  <!-- orange curved arrow -->
  <path d="M1261.5 814Q1256 792 1259.7 785Q1263 771 1271.4 765.3Q1286 756 1304.8 755.9L1308.4 749L1324.7 768L1304.8 775.2L1303 769.8Q1288 770 1276.8 778.8Q1269 787 1266.5 800Z" fill="#e9925a"/>
  <!-- bed B wheels -->
  <g fill="#111113">
    <ellipse cx="1426" cy="850.6" rx="5.5" ry="5"/>
    <ellipse cx="1602" cy="921" rx="6" ry="5.3"/>
    <ellipse cx="1665.2" cy="861.5" rx="5.5" ry="5"/>
  </g>
  <!-- bed B silhouette -->
  <path d="M1489.5 766.6L1499.8 770.9L1647.2 826L1652.4 827.5Q1662 829 1666.1 833.5L1666 857L1602.6 915L1424.3 844.6L1423.4 824Q1424 817 1429.4 813.7Z" fill="url(#weave)" filter="url(#fab)"/>
  <!-- interior through lid -->
  <path d="M1498 771.7L1438 817.2Q1433 826 1435.4 832.6Q1437 840 1441.4 842.9L1583.8 896.9Q1590 897 1594 891Q1597 884 1598.4 877.2L1647.2 830.9Z" fill="#6a6e75"/>
  <path d="M1492.9 789.7L1618 837.8L1587.2 872L1455.2 820.6Z" fill="#5c6067"/>
  <g stroke="#4e5056" stroke-width="0.9" fill="none">
    <line x1="1534" y1="805.5" x2="1498" y2="837.5"/>
    <line x1="1576" y1="821.7" x2="1542" y2="854.5"/>
  </g>
  <!-- lid front band -->
  <path d="M1438 817.2L1441.5 821.5L1595.8 877.2L1598.4 877.2Q1597 884 1594 891Q1590 897 1583.8 896.9L1441.4 842.9Q1437 840 1435.4 832.6Q1433 826 1438 817.2Z" fill="#7e8289"/>
  <!-- far silver rail -->
  <path d="M1504.9 773.4L1647.2 825.7L1641 832L1510 784Q1506 780 1504.9 773.4Z" fill="#cfcdc9"/>
  <path d="M1504.9 773.4L1647.2 825.7" stroke="#e9e7e3" stroke-width="1.2" fill="none"/>
  <!-- right bolster B -->
  <path d="M1598.4 877.2L1652.4 827.5Q1662 829 1666.1 833.5L1664 832L1611 888Q1605 882 1598.4 877.2Z" fill="url(#bandR)"/>
  <path d="M1611 888L1664 832Q1666 833 1666.1 833.5L1666 857L1602.6 915L1603.5 900Q1605 894 1611 888Z" fill="url(#weaveM)" filter="url(#fab)"/>
  <path d="M1611 888L1664 832Q1666 833 1666.1 833.5L1666 857L1602.6 915L1603.5 900Q1605 894 1611 888Z" fill="#3a3a3e" opacity="0.3"/>
  <path d="M1498 771.7L1438 817.2Q1433 826 1435.4 832.6Q1437 840 1441.4 842.9L1583.8 896.9Q1590 897 1594 891Q1597 884 1598.4 877.2L1647.2 830.9" fill="none" stroke="#2a2a2d" stroke-width="1.2"/>
  <path d="M1442 847L1583 900.5" fill="none" stroke="#151517" stroke-width="1"/>
  <path d="M1512 876l1 4" stroke="#101012" stroke-width="1.5" fill="none"/>
  <path d="M1630 872Q1636 870 1640 865Q1644 858 1649 855L1650 858.5Q1646 863 1643 869Q1638 875 1631 877.5Z" fill="#8c8c90" stroke="#55555a" stroke-width="0.7"/>
</g>
<text x="1242.5" y="847" font-size="35" font-weight="bold" fill="#2c2b2e" text-anchor="middle">3</text>
</svg>
</body>
</html>
